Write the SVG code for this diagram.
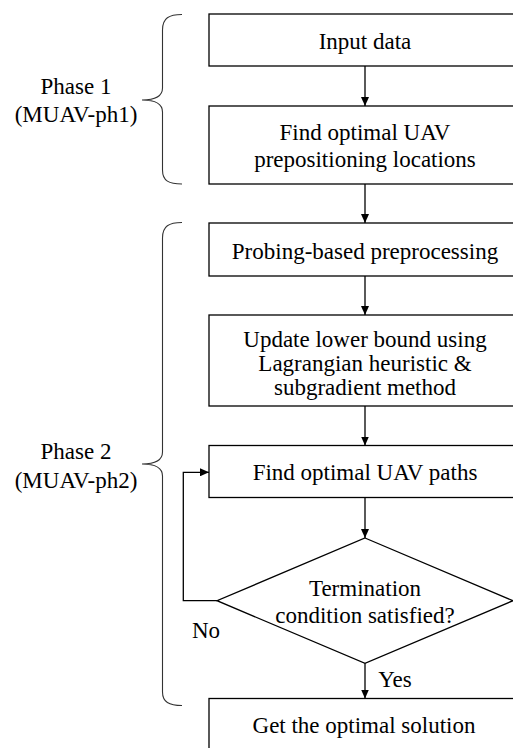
<svg xmlns="http://www.w3.org/2000/svg" width="513" height="748" viewBox="0 0 513 748">
<style>
.box{fill:#fff;stroke:#000;stroke-width:1.3}
.t{font-family:"Liberation Serif","Times New Roman",serif;font-size:23px;fill:#000;text-anchor:middle}
.ln{fill:none;stroke:#000;stroke-width:1.3}
.br{fill:none;stroke:#333;stroke-width:1.1}
</style>
<defs>
<marker id="ah" markerWidth="9" markerHeight="8" refX="9" refY="4" orient="auto" markerUnits="userSpaceOnUse">
<path d="M0,0 L9,4 L0,8 Z" fill="#000"/>
</marker>
</defs>
<rect width="513" height="748" fill="#fff"/>
<g id="phase1">
<path class="br" d="M182,14.5 C169,14.5 162.5,18 162.5,30 L162.5,88 C162.5,96 156,100 142,100 C156,100 162.5,104 162.5,112 L162.5,170 C162.5,181 169,184 182,184"/>
<text class="t" x="76" y="94">Phase 1</text>
<text class="t" x="76" y="122">(MUAV-ph1)</text>
</g>
<g id="phase2">
<path class="br" d="M182,222.5 C169,222.5 162.5,226 162.5,238 L162.5,452 C162.5,460 156,464 142,464 C156,464 162.5,468 162.5,476 L162.5,692 C162.5,702 169,705.5 182,705.5"/>
<text class="t" x="76" y="459">Phase 2</text>
<text class="t" x="76" y="488">(MUAV-ph2)</text>
</g>
<g id="input">
<rect class="box" x="209" y="14" width="312" height="52"/>
<text class="t" x="365" y="49">Input data</text>
</g>
<g id="prepos">
<rect class="box" x="209" y="106" width="312" height="78"/>
<text class="t" x="365" y="140">Find optimal UAV</text>
<text class="t" x="365" y="166.5">prepositioning locations</text>
</g>
<g id="probing">
<rect class="box" x="209" y="223" width="312" height="53"/>
<text class="t" x="365" y="259">Probing-based preprocessing</text>
</g>
<g id="lower">
<rect class="box" x="209" y="315" width="312" height="91"/>
<text class="t" x="365" y="347">Update lower bound using</text>
<text class="t" x="365" y="371">Lagrangian heuristic &amp;</text>
<text class="t" x="365" y="395">subgradient method</text>
</g>
<g id="paths">
<rect class="box" x="209" y="445.5" width="312" height="52"/>
<text class="t" x="365" y="479.5">Find optimal UAV paths</text>
</g>
<g id="term">
<polygon class="box" points="365,538 513,600.7 365,663.3 217,600.7"/>
<text class="t" x="365" y="596">Termination</text>
<text class="t" x="365" y="623">condition satisfied?</text>
</g>
<g id="solution">
<rect class="box" x="209" y="698.5" width="312" height="52"/>
<text class="t" x="364" y="733">Get the optimal solution</text>
</g>
<g id="connectors">
<line class="ln" x1="365" y1="66" x2="365" y2="106" marker-end="url(#ah)"/>
<line class="ln" x1="365" y1="184" x2="365" y2="223" marker-end="url(#ah)"/>
<line class="ln" x1="365" y1="276" x2="365" y2="315" marker-end="url(#ah)"/>
<line class="ln" x1="365" y1="406" x2="365" y2="445.5" marker-end="url(#ah)"/>
<line class="ln" x1="365" y1="497.5" x2="365" y2="538" marker-end="url(#ah)"/>
<line class="ln" x1="365" y1="663.3" x2="365" y2="698.5" marker-end="url(#ah)"/>
<polyline class="ln" points="217,600.7 183.3,600.7 183.3,472.3 209,472.3" marker-end="url(#ah)"/>
<text class="t" x="206" y="638">No</text>
<text class="t" x="395" y="687">Yes</text>
</g>
</svg>
